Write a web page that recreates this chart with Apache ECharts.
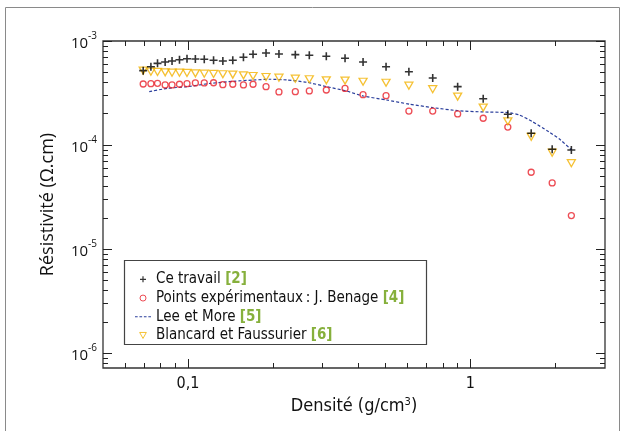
<!DOCTYPE html>
<html>
<head>
<meta charset="utf-8">
<script src="https://cdn.jsdelivr.net/npm/echarts@6/dist/echarts.min.js"></script>
<style>
  html, body { margin: 0; padding: 0; background: #fff; }
  #main { width: 626px; height: 431px; }
</style>
</head>
<body>
<div id="main"></div>
<script>
// densité (g/cm3) des points calculés / mesurés
const densite = [0.0694, 0.0739, 0.078, 0.083, 0.0878, 0.0933, 0.0992, 0.1062, 0.1142, 0.1232,
  0.1329, 0.1441, 0.1572, 0.170, 0.189, 0.210, 0.240, 0.269, 0.309, 0.360,
  0.417, 0.503, 0.606, 0.736, 0.902, 1.111, 1.358, 1.643, 1.95, 2.28]
const ceTravail = [5.19e-4, 5.66e-4, 6.1e-4, 6.28e-4, 6.42e-4, 6.61e-4, 6.76e-4, 6.72e-4, 6.67e-4, 6.53e-4,
  6.42e-4, 6.53e-4, 6.97e-4, 7.45e-4, 7.67e-4, 7.5e-4, 7.39e-4, 7.29e-4, 7.13e-4, 6.82e-4,
  6.28e-4, 5.66e-4, 5.07e-4, 4.41e-4, 3.64e-4, 2.79e-4, 1.98e-4, 1.30e-4, 9.11e-5, 8.97e-5]
const benage = [3.86e-4, 3.89e-4, 3.92e-4, 3.78e-4, 3.78e-4, 3.84e-4, 3.89e-4, 3.95e-4, 3.95e-4, 3.97e-4,
  3.80e-4, 3.84e-4, 3.78e-4, 3.84e-4, 3.64e-4, 3.24e-4, 3.26e-4, 3.31e-4, 3.38e-4, 3.50e-4,
  3.05e-4, 2.98e-4, 2.12e-4, 2.12e-4, 1.99e-4, 1.81e-4, 1.49e-4, 5.48e-5, 4.33e-5, 2.10e-5]
const blancard = [5.19e-4, 5.07e-4, 5.04e-4, 5.0e-4, 4.96e-4, 4.96e-4, 4.93e-4, 4.89e-4, 4.85e-4, 4.82e-4,
  4.79e-4, 4.75e-4, 4.68e-4, 4.61e-4, 4.51e-4, 4.44e-4, 4.34e-4, 4.29e-4, 4.19e-4, 4.17e-4,
  4.06e-4, 3.97e-4, 3.72e-4, 3.44e-4, 2.92e-4, 2.29e-4, 1.69e-4, 1.20e-4, 8.45e-5, 6.69e-5]
// Lee et More (courbe)
const leeX = [0.0729, 0.0846, 0.0995, 0.1202, 0.1453, 0.1708, 0.1956, 0.224, 0.2636, 0.31, 0.3648,
  0.4173, 0.5046, 0.6095, 0.736, 0.902, 1.111, 1.358, 1.489, 1.658, 1.899, 2.088, 2.283]
const leeY = [3.26e-4, 3.51e-4, 3.64e-4, 3.92e-4, 4.10e-4, 4.22e-4, 4.29e-4, 4.22e-4, 4.01e-4, 3.64e-4, 3.3e-4,
  2.96e-4, 2.71e-4, 2.47e-4, 2.29e-4, 2.14e-4, 2.08e-4, 2.05e-4, 1.95e-4, 1.68e-4, 1.34e-4, 1.12e-4, 8.97e-5]

const noms = ['Ce travail', 'Points expérimentaux\u202f: J. Benage', 'Lee et More', 'Blancard et Faussurier']
const refs = ['[2]', '[4]', '[5]', '[6]']

const xMajor = [0.1, 1]
const xLabels = ['0,1', '1']
const xMinor = [0.06, 0.07, 0.08, 0.09, 0.2, 0.3, 0.4, 0.5, 0.6, 0.7, 0.8, 0.9, 2]
const yMajor = [1e-6, 1e-5, 1e-4, 1e-3]
const xMin = 0.05, xMax = 3
const yMin = 7.2e-7, yMax = 1e-3

const yMinor = []
;[1e-7, 1e-6, 1e-5, 1e-4].forEach(d => {
  for (let m = 2; m <= 9; m++) {
    const v = m * d
    if (v > yMin && v < yMax) yMinor.push(v)
  }
})

const zip = (xs, ys) => xs.map((x, i) => [x, ys[i]])

const COND = "'DejaVu Sans Condensed', 'Liberation Sans Narrow', 'Roboto', sans-serif"
const SANS = "'Open Sans', 'Noto Sans', sans-serif"
const GREEN = '#86b03c'
const BLUE = '#2b3f9c'
const RED = '#e8202a'
const YELLOW = '#f2b100'

function xAxisDef(pos, vals, len, labels) {
  return {
    type: 'log', logBase: 10, min: xMin, max: xMax, position: pos,
    axisLine: { show: false },
    splitLine: { show: false },
    axisTick: { show: true, inside: true, length: len, customValues: vals, lineStyle: { color: '#222', width: 1 } },
    axisLabel: labels ? {
      show: true, customValues: xMajor, margin: 8,
      fontFamily: COND, fontSize: 16, color: '#111',
      formatter: v => xLabels[xMajor.findIndex(m => Math.abs(m - v) / m < 1e-6)]
    } : { show: false }
  }
}
function yAxisDef(pos, vals, len, labels) {
  return {
    type: 'log', logBase: 10, min: yMin, max: yMax, position: pos,
    axisLine: { show: false },
    splitLine: { show: false },
    axisTick: { show: true, inside: true, length: len, customValues: vals, lineStyle: { color: '#222', width: 1 } },
    axisLabel: labels ? {
      show: true, customValues: yMajor, margin: 6,
      formatter: v => '{b|10}{s|' + Math.round(Math.log10(v)) + '}',
      rich: {
        b: { fontFamily: SANS, fontSize: 15, color: '#111', lineHeight: 20, verticalAlign: 'bottom' },
        s: { fontFamily: SANS, fontSize: 10, color: '#111', lineHeight: 20, verticalAlign: 'top', padding: [0, 0, 6, 0] }
      }
    } : { show: false }
  }
}

const xAxes = [
  xAxisDef('bottom', xMajor, 9, true),
  xAxisDef('bottom', xMinor, 5, false),
  xAxisDef('top', xMajor, 9, false),
  xAxisDef('top', xMinor, 5, false)
]
Object.assign(xAxes[0], {
  name: 'Densité (g/cm{s|3})', nameLocation: 'middle', nameGap: 29,
  nameTextStyle: {
    fontFamily: COND, fontSize: 18, color: '#111',
    rich: { s: { fontFamily: COND, fontSize: 11, color: '#111', verticalAlign: 'top', padding: [0, 0, 8, 0] } }
  }
})
const yAxes = [
  yAxisDef('left', yMajor, 9, true),
  yAxisDef('left', yMinor, 5, false),
  yAxisDef('right', yMajor, 9, false),
  yAxisDef('right', yMinor, 5, false)
]
Object.assign(yAxes[0], {
  name: 'Résistivité (Ω.cm)', nameLocation: 'middle', nameGap: 46, nameRotate: 90,
  nameTextStyle: { fontFamily: SANS, fontSize: 18, color: '#111' }
})

const crossPath = 'path://M4,0H6V4H10V6H6V10H4V6H0V4H4Z'
const triPath = 'path://M0,0L10,0L5,9Z'
const dashPath = 'path://M0,0H3V1H0Z M5,0H8V1H5Z M10,0H13V1H10Z M15,0H18V1H15Z'

const chart = echarts.init(document.getElementById('main'), null, { renderer: 'canvas' })
chart.setOption({
  animation: false,
  backgroundColor: '#fff',
  grid: { left: 103, top: 41, right: 21, bottom: 63, show: true, borderColor: '#333', borderWidth: 1.3, backgroundColor: 'transparent' },
  graphic: [
    { type: 'rect', shape: { x: 5.5, y: 7.5, width: 614, height: 440 }, style: { fill: 'none', stroke: '#8a8a8a', lineWidth: 1 }, silent: true, z: -1 },
    { type: 'rect', shape: { x: 124.5, y: 260.5, width: 302, height: 84 }, style: { fill: '#fff', stroke: '#444', lineWidth: 1.2 }, silent: true, z: 10 }
  ],
  legend: {
    orient: 'vertical', left: 130, top: 265, z: 20,
    itemWidth: 16, itemHeight: 6, itemGap: 0,
    data: [
      { name: noms[0], icon: crossPath, itemStyle: { color: '#000', borderWidth: 0 } },
      { name: noms[1], icon: 'circle', itemStyle: { color: 'rgba(255,255,255,0)', borderColor: RED, borderWidth: 1 } },
      { name: noms[2], icon: dashPath, itemStyle: { color: BLUE, borderWidth: 0 } },
      { name: noms[3], icon: triPath, itemStyle: { color: 'rgba(255,255,255,0)', borderColor: YELLOW, borderWidth: 1 } }
    ],
    formatter: n => n + ' {g|' + refs[noms.indexOf(n)] + '}',
    textStyle: {
      fontFamily: COND, fontSize: 15, color: '#111', lineHeight: 18.7,
      rich: {
        g: { fontFamily: COND, fontSize: 15, color: GREEN, fontWeight: 'bold', lineHeight: 18.7 }
      }
    }
  },
  xAxis: xAxes,
  yAxis: yAxes,
  series: [
    {
      name: noms[0], type: 'scatter', data: zip(densite, ceTravail),
      symbol: crossPath, symbolSize: 8, symbolKeepAspect: true,
      itemStyle: { color: '#000' }, z: 6
    },
    {
      name: noms[1], type: 'scatter', data: zip(densite, benage),
      symbol: 'circle', symbolSize: 6,
      itemStyle: { color: 'rgba(255,255,255,0)', borderColor: RED, borderWidth: 1.3 }, z: 4
    },
    {
      name: noms[2], type: 'line', data: zip(leeX, leeY),
      symbol: 'none', smooth: 0.2,
      lineStyle: { color: BLUE, width: 1.2, type: [3, 2] },
      itemStyle: { color: BLUE }, z: 3
    },
    {
      name: noms[3], type: 'scatter', data: zip(densite, blancard),
      symbol: 'triangle', symbolRotate: 180, symbolSize: [8, 7], symbolKeepAspect: true,
      itemStyle: { color: 'rgba(255,255,255,0)', borderColor: YELLOW, borderWidth: 1.3 }, z: 5
    }
  ]
})
</script>
</body>
</html>
